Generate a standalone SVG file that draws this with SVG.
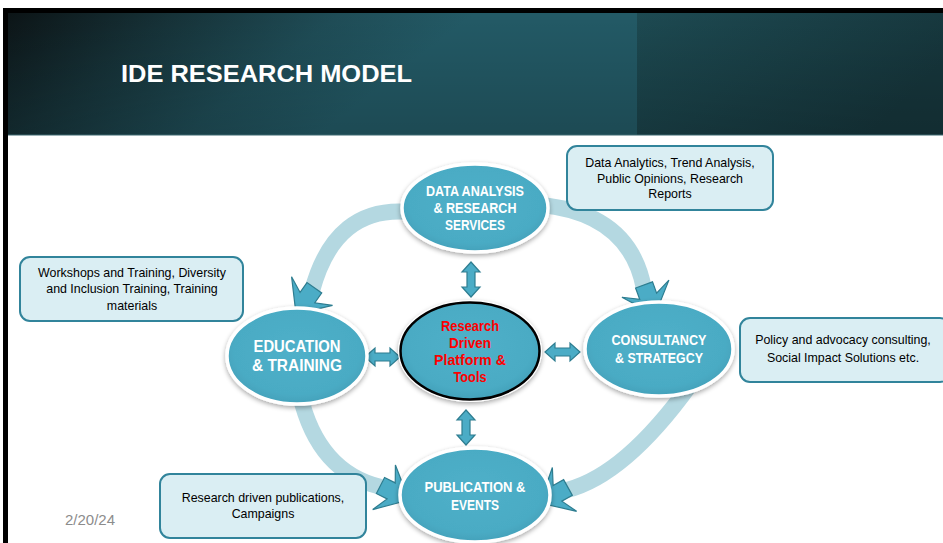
<svg xmlns="http://www.w3.org/2000/svg" xmlns:xlink="http://www.w3.org/1999/xlink" width="943" height="543" viewBox="0 0 943 543">
<style>
.ring{fill:none;stroke:#b4d8e1;stroke-width:16}
.ah{fill:#4bacc6;stroke:#2e7d90;stroke-width:1.2;stroke-linejoin:miter}
.da{fill:#4bacc6;stroke:#2e7d90;stroke-width:1.2}
.node{fill:url(#nodeGrad);stroke:#ffffff;stroke-width:3.5}
.nt{font-family:"Liberation Sans",Arial,sans-serif;font-weight:bold;fill:#ffffff;text-anchor:middle}
.ct{font-family:"Liberation Sans",Arial,sans-serif;font-weight:bold;fill:#ff0000;text-anchor:middle}
.box{fill:#daeef3;stroke:#31849b;stroke-width:2}
.bt{font-family:"Liberation Sans",Arial,sans-serif;font-size:12.4px;fill:#000000;text-anchor:middle}
</style>
<defs>
<linearGradient id="hdr" x1="0" y1="0" x2="1" y2="0.25">
<stop offset="0" stop-color="#0c1416"/>
<stop offset="0.25" stop-color="#163238"/>
<stop offset="0.5" stop-color="#1f4d57"/>
<stop offset="0.7" stop-color="#235a66"/>
<stop offset="1" stop-color="#235a66"/>
</linearGradient>
<linearGradient id="band" x1="0" y1="0" x2="1" y2="0.4">
<stop offset="0" stop-color="#1d4a52"/>
<stop offset="1" stop-color="#16363c"/>
</linearGradient>
<linearGradient id="vshade" x1="0" y1="0" x2="0" y2="1">
<stop offset="0" stop-color="#000" stop-opacity="0"/>
<stop offset="1" stop-color="#000" stop-opacity="0.18"/>
</linearGradient>
<radialGradient id="nodeGrad" cx="0.5" cy="0.45" r="0.6">
<stop offset="0" stop-color="#4fb0c9"/>
<stop offset="0.75" stop-color="#4aabc4"/>
<stop offset="1" stop-color="#3f9cb5"/>
</radialGradient>
<filter id="sh" x="-20%" y="-20%" width="140%" height="150%">
<feGaussianBlur in="SourceAlpha" stdDeviation="2.5"/>
<feOffset dx="0" dy="2" result="b"/>
<feComponentTransfer><feFuncA type="linear" slope="0.35"/></feComponentTransfer>
<feMerge><feMergeNode/><feMergeNode in="SourceGraphic"/></feMerge>
</filter>
<polygon id="ahead" points="0,0 -28,25 -20,9 -32,9 -32,-9 -20,-9 -28,-25"/>
</defs>

<!-- slide frame and header -->
<rect x="0" y="0" width="943" height="543" fill="#ffffff"/>
<rect x="3" y="8" width="940" height="535" fill="#000000"/>
<rect x="8" y="13" width="935" height="530" fill="#ffffff"/>
<rect x="8" y="13" width="629" height="122" fill="url(#hdr)"/>
<rect x="637" y="13" width="306" height="122" fill="url(#band)"/>
<rect x="8" y="13" width="935" height="122" fill="url(#vshade)"/>
<line x1="8" y1="135" x2="943" y2="135" stroke="#3d6870" stroke-width="1"/>
<text x="121" y="82" font-family="'Liberation Sans',Arial,sans-serif" font-weight="bold" font-size="24" fill="#ffffff" textLength="291" lengthAdjust="spacingAndGlyphs">IDE RESEARCH MODEL</text>

<!-- connectors -->
<g id="connectors">
<path class="ring" d="M 410 212 Q 335 205 312 291"/>
<path class="ring" d="M 540 205 Q 630 213 644 289"/>
<path class="ring" d="M 300 395 Q 318 472 381 487"/>
<path class="ring" d="M 690 385 Q 625 475 567 490"/>
<use href="#ahead" class="ah" transform="translate(296,314) rotate(125)"/>
<use href="#ahead" class="ah" transform="translate(655,315) rotate(70)"/>
<use href="#ahead" class="ah" transform="translate(409,500) rotate(27)"/>
<use href="#ahead" class="ah" transform="translate(540,503) rotate(151)"/>
<polygon class="da" points="471,262 480,272 475,272 475,287 480,287 471,297 462,287 467,287 467,272 462,272"/>
<polygon class="da" points="466,410 475,420 470,420 470,435 475,435 466,445 457,435 462,435 462,420 457,420"/>
<polygon class="da" points="365,357 375,348 375,353 390,353 390,348 400,357 390,366 390,361 375,361 375,366"/>
<polygon class="da" points="545,352 555,343 555,348 570,348 570,343 580,352 570,361 570,356 555,356 555,361"/>
</g>

<!-- nodes -->
<g id="node-data">
<ellipse class="node" cx="475" cy="208" rx="73" ry="44" filter="url(#sh)"/>
<text class="nt" x="475" y="196" font-size="14.5" textLength="98" lengthAdjust="spacingAndGlyphs">DATA ANALYSIS</text>
<text class="nt" x="475" y="213" font-size="14.5" textLength="83" lengthAdjust="spacingAndGlyphs">&amp; RESEARCH</text>
<text class="nt" x="475" y="230" font-size="14.5" textLength="60" lengthAdjust="spacingAndGlyphs">SERVICES</text>
</g>

<g id="node-education">
<ellipse class="node" cx="297" cy="356" rx="70" ry="48" filter="url(#sh)"/>
<text class="nt" x="297" y="352" font-size="16.5" textLength="87" lengthAdjust="spacingAndGlyphs">EDUCATION</text>
<text class="nt" x="297" y="371" font-size="16.5" textLength="90" lengthAdjust="spacingAndGlyphs">&amp; TRAINING</text>
</g>

<g id="node-center">
<ellipse cx="470" cy="351" rx="72" ry="51" fill="#ffffff" filter="url(#sh)"/>
<ellipse cx="470" cy="351" rx="69.5" ry="48.5" fill="url(#nodeGrad)" stroke="#000000" stroke-width="2.5"/>
<text class="ct" x="470" y="331" font-size="14.5" textLength="58" lengthAdjust="spacingAndGlyphs">Research</text>
<text class="ct" x="470" y="348" font-size="14.5" textLength="42" lengthAdjust="spacingAndGlyphs">Driven</text>
<text class="ct" x="470" y="365" font-size="14.5" textLength="72" lengthAdjust="spacingAndGlyphs">Platform &amp;</text>
<text class="ct" x="470" y="382" font-size="14.5" textLength="33" lengthAdjust="spacingAndGlyphs">Tools</text>
</g>

<g id="node-consultancy">
<ellipse class="node" cx="659" cy="349" rx="74" ry="47" filter="url(#sh)"/>
<text class="nt" x="659" y="345" font-size="14" textLength="95" lengthAdjust="spacingAndGlyphs">CONSULTANCY</text>
<text class="nt" x="659" y="363" font-size="14" textLength="88" lengthAdjust="spacingAndGlyphs">&amp; STRATEGCY</text>
</g>

<g id="node-publication">
<ellipse class="node" cx="475" cy="495" rx="75" ry="47" filter="url(#sh)"/>
<text class="nt" x="475" y="492" font-size="14.5" textLength="101" lengthAdjust="spacingAndGlyphs">PUBLICATION &amp;</text>
<text class="nt" x="475" y="510" font-size="14.5" textLength="48" lengthAdjust="spacingAndGlyphs">EVENTS</text>
</g>

<!-- text boxes -->
<g id="box-data">
<rect class="box" x="567" y="146" width="206" height="64" rx="10"/>
<text class="bt" x="670" y="167">Data Analytics, Trend Analysis,</text>
<text class="bt" x="670" y="183">Public Opinions, Research</text>
<text class="bt" x="670" y="198">Reports</text>
</g>

<g id="box-education">
<rect class="box" x="20" y="257" width="223" height="64" rx="10"/>
<text class="bt" x="132" y="277">Workshops and Training, Diversity</text>
<text class="bt" x="132" y="293">and Inclusion Training, Training</text>
<text class="bt" x="132" y="310">materials</text>
</g>

<g id="box-consultancy">
<rect class="box" x="740" y="318" width="210" height="64" rx="10"/>
<text class="bt" x="843" y="344">Policy and advocacy consulting,</text>
<text class="bt" x="843" y="362">Social Impact Solutions etc.</text>
</g>

<g id="box-publication">
<rect class="box" x="160" y="474" width="206" height="64" rx="10"/>
<text class="bt" x="263" y="502">Research driven publications,</text>
<text class="bt" x="263" y="518">Campaigns</text>
</g>

<text x="65" y="525" font-family="'Liberation Sans',Arial,sans-serif" font-size="15" fill="#8c8c8c">2/20/24</text>
</svg>
